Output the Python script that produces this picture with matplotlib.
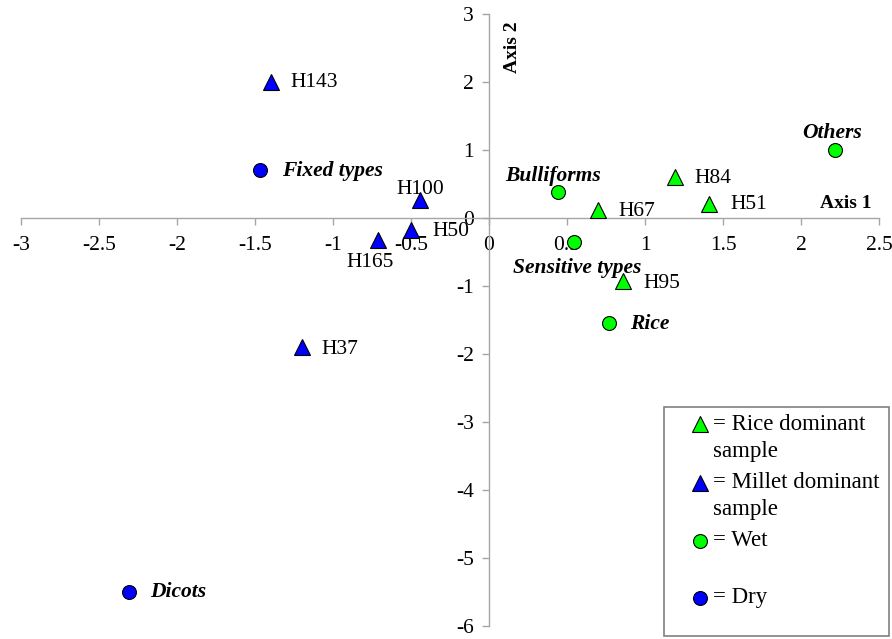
import matplotlib.pyplot as plt
from matplotlib.patches import Rectangle

plt.rcParams['font.family'] = ['Liberation Serif', 'DejaVu Serif']

# --- data: sample scores (triangles) and phytolith types (circles) ---
samples = ['H143', 'H100', 'H50', 'H165', 'H37', 'H67', 'H84', 'H51', 'H95']
sample_x = [-1.40, -0.44, -0.50, -0.71, -1.20, 0.70, 1.19, 1.41, 0.86]
sample_y = [2.00, 0.26, -0.18, -0.32, -1.90, 0.12, 0.60, 0.21, -0.93]
sample_group = ['millet', 'millet', 'millet', 'millet', 'millet', 'rice', 'rice', 'rice', 'rice']

types = ['Fixed types', 'Dicots', 'Bulliforms', 'Sensitive types', 'Rice', 'Others']
type_x = [-1.47, -2.31, 0.44, 0.545, 0.77, 2.22]
type_y = [0.71, -5.50, 0.38, -0.35, -1.54, 1.00]
type_group = ['dry', 'dry', 'wet', 'wet', 'wet', 'wet']

xticks = [-3, -2.5, -2, -1.5, -1, -0.5, 0, 0.5, 1, 1.5, 2, 2.5]
yticks = [-6, -5, -4, -3, -2, -1, 0, 1, 2, 3]

GREEN = '#00ff00'
BLUE = '#0000ff'
colors = {'millet': BLUE, 'rice': GREEN, 'dry': BLUE, 'wet': GREEN}

# label offsets in pixels (dx, dy, ha)
sample_off = {'H143': (20, 0, 'left'), 'H100': (0, 11, 'center'), 'H50': (21, -1, 'left'),
              'H165': (-8, -23, 'center'), 'H37': (20, -2, 'left'), 'H67': (20, -2, 'left'),
              'H84': (20, -1, 'left'), 'H51': (21, -1, 'left'), 'H95': (20, -2, 'left')}
type_off = {'Fixed types': (22, -1, 'left'), 'Dicots': (22, 0, 'left'),
            'Bulliforms': (-5, 16, 'center'), 'Sensitive types': (3, -26, 'center'),
            'Rice': (21, -1, 'left'), 'Others': (-3, 17, 'center')}

fig = plt.figure(figsize=(8.92, 6.39), dpi=100)
ax = fig.add_axes([21 / 892, 13 / 639, 858 / 892, 612 / 639])
ax.set_xlim(-3, 2.5)
ax.set_ylim(-6, 3)

for sp in ['top', 'right']:
    ax.spines[sp].set_visible(False)
ax.spines['left'].set_position(('data', 0))
ax.spines['bottom'].set_position(('data', 0))
for sp in ['left', 'bottom']:
    ax.spines[sp].set_color('#a6a6a6')
    ax.spines[sp].set_linewidth(1.0)
ax.set_xticks(xticks)
ax.set_yticks(yticks)
ax.set_xticklabels([f'{t:g}' for t in xticks])
ax.set_yticklabels([f'{t:g}' for t in yticks])
ax.tick_params(colors='#a6a6a6', labelcolor='black', labelsize=15.5, length=5, width=1.0)
ax.tick_params(axis='x', pad=8)
ax.tick_params(axis='y', pad=6)

for name, x, y, g in zip(samples, sample_x, sample_y, sample_group):
    ax.plot(x, y, marker='^', ms=11, color=colors[g], mec='black', mew=0.8, ls='none', zorder=3)
    dx, dy, ha = sample_off[name]
    ax.annotate(name, (x, y), xytext=(dx, dy), textcoords='offset pixels',
                ha=ha, va='center', fontsize=15.5)

for name, x, y, g in zip(types, type_x, type_y, type_group):
    ax.plot(x, y, marker='o', ms=10, color=colors[g], mec='black', mew=0.8, ls='none', zorder=3)
    dx, dy, ha = type_off[name]
    ax.annotate(name, (x, y), xytext=(dx, dy), textcoords='offset pixels',
                ha=ha, va='center', fontsize=15.5, fontweight='bold', fontstyle='italic')

ax.text(2.29, 0.21, 'Axis 1', ha='center', va='center', fontsize=14, fontweight='bold')
ax.text(0.15, 2.51, 'Axis 2', ha='center', va='center', fontsize=14, fontweight='bold',
        rotation=90)

# legend box drawn in figure pixels
W, H = 892, 639
def fx(px): return px / W
def fy(py): return 1 - py / H

fig.patches.append(Rectangle((fx(664), fy(636)), fx(889) - fx(664), fy(407) - fy(636),
                             transform=fig.transFigure, fill=True, facecolor='white',
                             edgecolor='#808080', lw=1.2, zorder=5))
leg_items = [('^', GREEN, '= Rice dominant', 424), ('^', BLUE, '= Millet dominant', 483),
             ('o', GREEN, '= Wet', 541), ('o', BLUE, '= Dry', 598)]
for m, c, lab, py in leg_items:
    fig.add_artist(plt.Line2D([fx(700)], [fy(py)], marker=m, ms=11 if m == '^' else 10,
                              color=c, mec='black', mew=0.8, ls='none', zorder=6))
    fig.text(fx(713), fy(py), lab, ha='left', va='center', fontsize=16.5, zorder=6)
for py in [451, 510]:
    fig.text(fx(713), fy(py), 'sample', ha='left', va='center', fontsize=16.5, zorder=6)

fig.savefig('out.png', dpi=100)
